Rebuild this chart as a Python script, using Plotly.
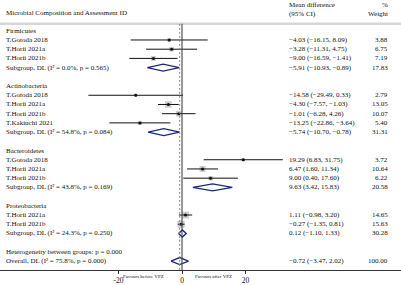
import math
import plotly.graph_objects as go

# ---------------- data ----------------
groups = ["Firmicutes", "Actinobacteria", "Bacteroidetes", "Proteobacteria"]
study_labels = [
    ["T.Gotoda 2018", "T.Horii 2021a", "T.Horii 2021b"],
    ["T.Gotoda 2018", "T.Horii 2021a", "T.Horii 2021b", "T.Kakiuchi 2021"],
    ["T.Gotoda 2018", "T.Horii 2021a", "T.Horii 2021b"],
    ["T.Horii 2021a", "T.Horii 2021b"],
]
study_est = [[-4.03, -3.28, -9.00], [-14.58, -4.30, -1.01, -13.25], [19.29, 6.47, 9.00], [1.11, -0.27]]
study_lo = [[-16.15, -11.31, -16.59], [-29.49, -7.57, -6.28, -22.86], [6.83, 1.60, 0.40], [-0.98, -1.35]]
study_hi = [[8.09, 4.75, -1.41], [0.33, -1.03, 4.26, -3.64], [31.75, 11.34, 17.60], [3.20, 0.81]]
study_w = [[3.88, 6.75, 7.19], [2.79, 13.05, 10.07, 5.40], [3.72, 10.64, 6.22], [14.65, 15.63]]

sub_i2 = [0.0, 54.8, 43.8, 24.3]
sub_p = [0.565, 0.084, 0.169, 0.250]
sub_est = [-5.91, -5.74, 9.63, 0.12]
sub_lo = [-10.93, -10.70, 3.42, -1.10]
sub_hi = [-0.89, -0.78, 15.83, 1.33]
sub_w = [17.83, 31.31, 20.58, 30.28]

overall_est, overall_lo, overall_hi, overall_w = -0.72, -3.47, 2.02, 100.00
overall_i2, overall_p = 75.8, 0.000
het_p = 0.000

tick_vals = [-20, 0, 20]
tick_text = ["-20", "0", "20"]

# ---------------- style ----------------
FONT = "Liberation Serif"
FS = 7
NAVY = "#1c2a78"
X_LEFT, X_MD, X_W = 0.01, 0.716, 0.973


def fmt(v):
    return f"{v:.2f}".replace("-", "\u2212")


def ci_text(e, l, h):
    return f"{fmt(e)} ({fmt(l)}, {fmt(h)})"


fig = go.Figure()
annotations = []


def label(x, y, text, align="left", size=FS):
    annotations.append(dict(
        x=x, y=y, xref="paper", yref="y", text=text, showarrow=False,
        xanchor="left" if align == "left" else "right", yanchor="middle",
        font=dict(family=FONT, size=size, color="#111")))


sq_x, sq_y, sq_s = [], [], []
line_x, line_y = [], []
diamonds = []

row = 0
for g, name in enumerate(groups):
    label(X_LEFT, row, name)
    row += 1
    for i, s in enumerate(study_labels[g]):
        e, l, h, w = study_est[g][i], study_lo[g][i], study_hi[g][i], study_w[g][i]
        label(X_LEFT, row, s)
        label(X_MD, row, ci_text(e, l, h))
        label(X_W, row, f"{w:.2f}", align="right")
        sq_x.append(e); sq_y.append(row); sq_s.append(1.8 * math.sqrt(w))
        line_x += [l, h, None]; line_y += [row, row, None]
        row += 1
    label(X_LEFT, row, f"Subgroup, DL (I\u00b2 = {sub_i2[g]:.1f}%, p = {sub_p[g]:.3f})")
    label(X_MD, row, ci_text(sub_est[g], sub_lo[g], sub_hi[g]))
    label(X_W, row, f"{sub_w[g]:.2f}", align="right")
    diamonds.append((sub_est[g], sub_lo[g], sub_hi[g], row))
    row += 2

label(X_LEFT, row, f"Heterogeneity between groups: p = {het_p:.3f}")
row += 1
label(X_LEFT, row, f"Overall, DL (I\u00b2 = {overall_i2:.1f}%, p = {overall_p:.3f})")
label(X_MD, row, ci_text(overall_est, overall_lo, overall_hi))
label(X_W, row, f"{overall_w:.2f}", align="right")
diamonds.append((overall_est, overall_lo, overall_hi, row))
last_row = row

# header
label(X_LEFT, -1.95, "Microbial Composition and Assessment ID")
label(X_MD, -2.75, "Mean difference")
label(X_MD, -1.85, "(95% CI)")
label(X_W, -2.75, "%", align="right")
label(X_W, -1.85, "Weight", align="right")

# favours labels
for xv, txt in [(-12.0, "Favours before VPZ"), (10.0, "Favours after VPZ")]:
    annotations.append(dict(x=xv, y=-0.008, xref="x", yref="paper", text=txt, showarrow=False,
                            xanchor="center", yanchor="top",
                            font=dict(family=FONT, size=5, color="#111")))

# ---------------- traces ----------------
fig.add_trace(go.Scatter(x=sq_x, y=sq_y, mode="markers",
                         marker=dict(symbol="square", size=sq_s, color="#b8b8b8", line=dict(width=0)),
                         hoverinfo="skip"))
fig.add_trace(go.Scatter(x=line_x, y=line_y, mode="lines",
                         line=dict(color="#111", width=1), hoverinfo="skip"))
fig.add_trace(go.Scatter(x=sq_x, y=sq_y, mode="markers",
                         marker=dict(symbol="circle", size=3, color="#111"), hoverinfo="skip"))
H = 0.38
for e, l, h, r in diamonds:
    fig.add_trace(go.Scatter(x=[l, e, h, e, l], y=[r, r - H, r, r + H, r], mode="lines",
                             fill="toself", fillcolor="white",
                             line=dict(color=NAVY, width=1.4), hoverinfo="skip"))

Y_TOP = -0.75
Y_BOT = (272 - 31) / 9.28
shapes = [
    dict(type="line", xref="paper", yref="y", x0=0, x1=1, y0=Y_TOP, y1=Y_TOP,
         line=dict(color="#d6d6d6", width=2.5)),
    dict(type="line", xref="x", yref="y", x0=0, x1=0, y0=Y_TOP, y1=Y_BOT,
         line=dict(color="#444", width=1.1)),
    dict(type="line", xref="x", yref="y", x0=overall_est, x1=overall_est, y0=Y_TOP, y1=Y_BOT,
         line=dict(color="#888", width=1, dash="2px,2px")),
]

scale = 3.175
fig.update_layout(
    width=401, height=285,
    margin=dict(l=0, r=0, t=0, b=13),
    paper_bgcolor="white", plot_bgcolor="white",
    showlegend=False,
    shapes=shapes,
    annotations=annotations,
    xaxis=dict(range=[-182 / scale, (401 - 182) / scale], tickvals=tick_vals, ticktext=tick_text,
               showgrid=False, zeroline=False, showline=True, linecolor="#333", linewidth=1,
               ticks="outside", ticklen=3, tickcolor="#333",
               tickfont=dict(family=FONT, size=7.5, color="#111")),
    yaxis=dict(range=[Y_BOT, -31 / 9.28], showgrid=False, zeroline=False, showticklabels=False,
               showline=False),
)

fig.write_html("out.html", config={"displayModeBar": False},
               post_script="document.body.style.margin='0';document.body.style.overflow='hidden';")
